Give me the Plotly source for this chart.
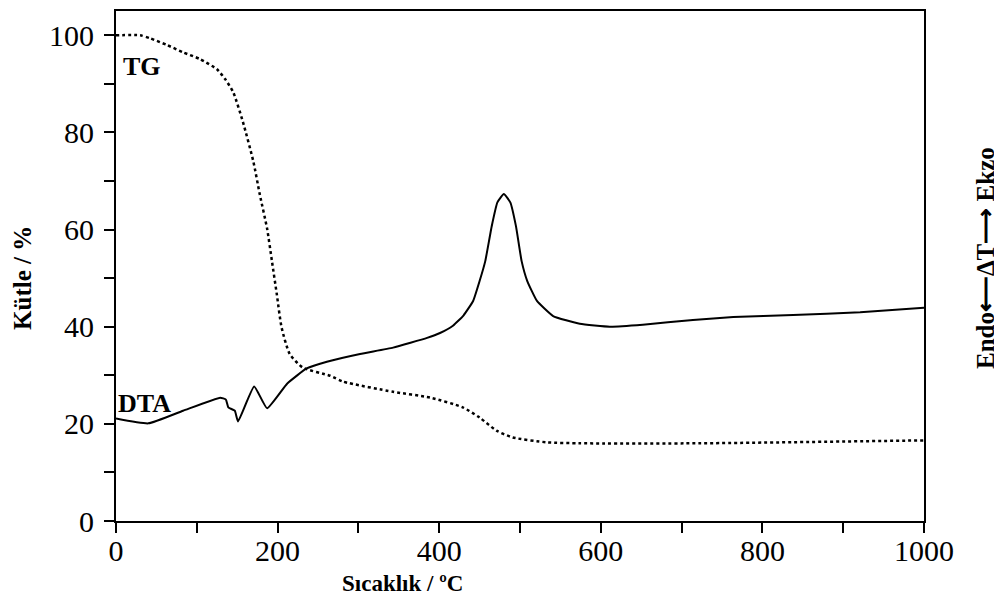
import plotly.graph_objects as go

# TG curve (mass %)
tg_temp = [0, 30, 42, 63, 83, 104, 125, 135, 145, 157, 170, 178, 187, 193, 199, 205,
           215, 231, 265, 281, 343, 389, 429, 450, 471, 491, 533, 574, 723, 1000]
tg_mass = [100, 100, 99.4, 98, 96.5, 95.1, 93, 91, 88.3, 82.2, 74, 67.2, 60.2, 53.5, 46.7, 39.8,
           34.4, 31.6, 29.9, 28.7, 26.6, 25.4, 23.4, 21.3, 18.6, 17.2, 16.2, 16, 16, 16.6]

# DTA curve (arbitrary units, drawn on the same scale)
dta_temp = [0, 40, 83, 129, 136, 139, 147, 151, 171, 187, 212, 236, 261, 302, 343, 385,
            401, 417, 430, 442, 450, 457, 465, 472, 480, 488, 495, 502, 509, 521, 541,
            574, 611, 652, 714, 764, 838, 921, 1000]
dta_val = [21.1, 20.1, 22.7, 25.4, 25, 23.4, 22.7, 20.5, 27.7, 23.2, 28.3, 31.4, 32.8, 34.4, 35.7, 37.7,
           38.7, 40.2, 42.3, 45.3, 49.4, 53.5, 60.7, 65.6, 67.3, 65.6, 60.7, 53.5, 49.4, 45.3, 42.2,
           40.6, 40, 40.4, 41.4, 42, 42.4, 43, 43.9]

serif = "Liberation Serif, Times New Roman, serif"

# the page body adds an 8px offset, so margins are set for that
L, R, T, B = 108, 86, 1, 92
W, H = 1002, 605
OFF = 8


def paper(px, py):
    """page pixel -> paper coords"""
    return ((px - OFF - L) / (W - L - R), (H - B - (py - OFF)) / (H - T - B))


fig = go.Figure()
fig.add_trace(go.Scatter(x=tg_temp, y=tg_mass, mode="lines", name="TG",
                         line=dict(color="black", width=2.5, dash="dot", shape="spline", smoothing=0.6)))
fig.add_trace(go.Scatter(x=dta_temp, y=dta_val, mode="lines", name="DTA",
                         line=dict(color="black", width=2, shape="spline", smoothing=0.4)))

axis_common = dict(showline=True, linecolor="black", linewidth=2, mirror=True,
                   ticks="outside", ticklen=10, tickwidth=1.5, tickcolor="black",
                   showgrid=False, zeroline=False,
                   tickfont=dict(family=serif, size=30, color="black"))

fig.update_xaxes(range=[0, 1000], tickvals=[0, 200, 400, 600, 800, 1000],
                 minor=dict(dtick=100, ticks="outside", ticklen=10, tickwidth=1.5, tickcolor="black"),
                 ticklabelstandoff=-8, **axis_common)
fig.update_yaxes(range=[0, 105], tickvals=[0, 20, 40, 60, 80, 100],
                 minor=dict(dtick=10, ticks="outside", ticklen=10, tickwidth=1.5, tickcolor="black"),
                 ticklabelstandoff=4, **axis_common)

xt = paper(402, 584)
yt = paper(23, 277)
rt = paper(985, 257)

fig.update_layout(
    width=W, height=H,
    margin=dict(l=L, r=R, t=T, b=B),
    plot_bgcolor="white", paper_bgcolor="white",
    showlegend=False,
    annotations=[
        dict(text="<b>TG</b>", x=6, y=93.6, xref="x", yref="y", xanchor="left", yanchor="middle",
             showarrow=False, font=dict(family=serif, size=26, color="black")),
        dict(text="<b>DTA</b>", x=0, y=24.2, xref="x", yref="y", xanchor="left", yanchor="middle",
             showarrow=False, font=dict(family=serif, size=26, color="black")),
        dict(text="<b>Sıcaklık / ºC</b>", x=xt[0], y=xt[1], xref="paper", yref="paper",
             xanchor="center", yanchor="middle",
             showarrow=False, font=dict(family=serif, size=23, color="black")),
        dict(text="<b>Kütle / %</b>", x=yt[0], y=yt[1], xref="paper", yref="paper",
             xanchor="center", yanchor="middle",
             textangle=-90, showarrow=False, font=dict(family=serif, size=25, color="black")),
        dict(text="<b>Endo⟵ΔT⟶ Ekzo</b>", x=rt[0], y=rt[1], xref="paper", yref="paper",
             xanchor="center", yanchor="middle",
             textangle=-90, showarrow=False, font=dict(family=serif, size=25, color="black")),
    ],
)

fig.write_html("out.html")
